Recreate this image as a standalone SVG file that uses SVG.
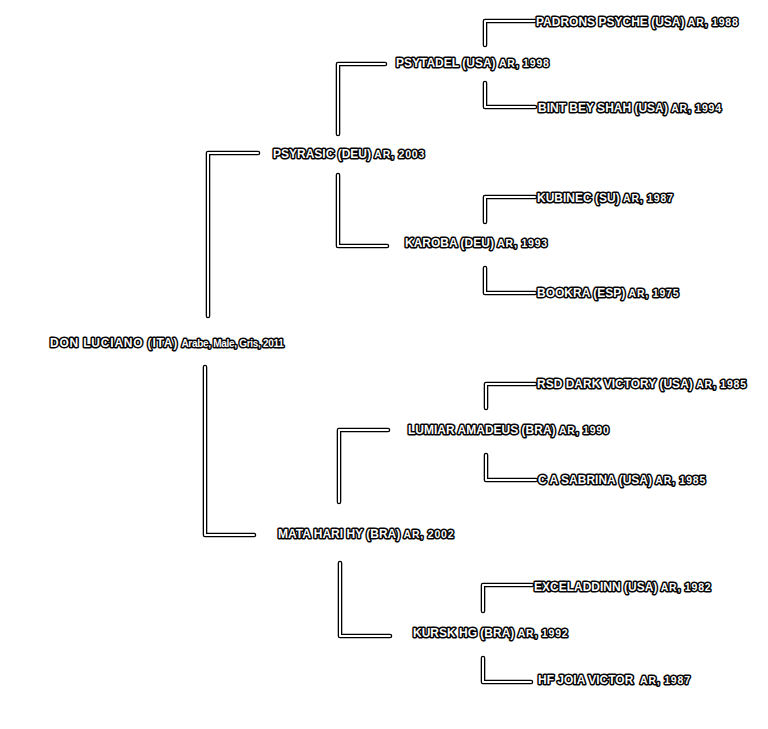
<svg xmlns="http://www.w3.org/2000/svg" xmlns:xlink="http://www.w3.org/1999/xlink" width="768" height="729" viewBox="0 0 768 729">
<style>
text{font-family:"Liberation Sans",Arial,sans-serif;font-weight:bold;font-size:12px;fill:#fff;stroke:#000;stroke-width:3;stroke-linejoin:round;paint-order:stroke}
.s{font-size:10.5px;letter-spacing:0.8px}
.r{font-size:10px;letter-spacing:-0.3px}
.d{letter-spacing:0.8px}
.o{fill:none;stroke:#000;stroke-width:4.6;stroke-linecap:round;stroke-linejoin:round}
.i{fill:none;stroke:#fff;stroke-width:2;stroke-linecap:round;stroke-linejoin:round}
</style>
<rect width="768" height="729" fill="#fff"/>
<defs>
<path id="p1" d="M208,316V153H258"/>
<path id="p2" d="M205,367V535H254"/>
<path id="p3" d="M338,134V64H385"/>
<path id="p4" d="M338,175V246H387"/>
<path id="p5" d="M485,45V21H535"/>
<path id="p6" d="M485,83V107H535"/>
<path id="p7" d="M485,222V197H535"/>
<path id="p8" d="M485,268V293H535"/>
<path id="p9" d="M486,408V384H535"/>
<path id="p10" d="M486,455V480H536"/>
<path id="p11" d="M339,502V430H388"/>
<path id="p12" d="M340,563V636H390"/>
<path id="p13" d="M483,611V585H532"/>
<path id="p14" d="M483,658V682H531"/>
</defs>
<g id="connectors">
<use href="#p1" class="o"/><use href="#p1" class="i"/>
<use href="#p2" class="o"/><use href="#p2" class="i"/>
<use href="#p3" class="o"/><use href="#p3" class="i"/>
<use href="#p4" class="o"/><use href="#p4" class="i"/>
<use href="#p5" class="o"/><use href="#p5" class="i"/>
<use href="#p6" class="o"/><use href="#p6" class="i"/>
<use href="#p7" class="o"/><use href="#p7" class="i"/>
<use href="#p8" class="o"/><use href="#p8" class="i"/>
<use href="#p9" class="o"/><use href="#p9" class="i"/>
<use href="#p10" class="o"/><use href="#p10" class="i"/>
<use href="#p11" class="o"/><use href="#p11" class="i"/>
<use href="#p12" class="o"/><use href="#p12" class="i"/>
<use href="#p13" class="o"/><use href="#p13" class="i"/>
<use href="#p14" class="o"/><use href="#p14" class="i"/>
</g>
<g id="n-padrons"><text x="536" y="26">PADRONS PSYCHE (USA) <tspan class="s">AR, 1988</tspan></text></g>
<g id="n-psytadel"><text x="396" y="67">PSYTADEL (USA) <tspan class="s">AR, 1998</tspan></text></g>
<g id="n-bint"><text x="538" y="112">BINT BEY SHAH (USA) <tspan class="s">AR, 1994</tspan></text></g>
<g id="n-psyrasic"><text x="273" y="158">PSYRASIC (DEU) <tspan class="s">AR, 2003</tspan></text></g>
<g id="n-kubinec"><text x="537" y="202">KUBINEC (SU) <tspan class="s">AR, 1987</tspan></text></g>
<g id="n-karoba"><text x="405" y="247">KAROBA (DEU) <tspan class="s">AR, 1993</tspan></text></g>
<g id="n-bookra"><text x="537" y="297">BOOKRA (ESP) <tspan class="s">AR, 1975</tspan></text></g>
<g id="n-don"><text x="50" y="347"><tspan class="d">DON LUCIANO (ITA)</tspan> <tspan class="r">Arabe, Male, Gris, 2011</tspan></text></g>
<g id="n-rsd"><text x="537" y="388">RSD DARK VICTORY (USA) <tspan class="s">AR, 1985</tspan></text></g>
<g id="n-lumiar"><text x="408" y="434">LUMIAR AMADEUS (BRA) <tspan class="s">AR, 1990</tspan></text></g>
<g id="n-sabrina"><text x="538" y="484">C A SABRINA (USA) <tspan class="s">AR, 1985</tspan></text></g>
<g id="n-mata"><text x="278" y="538">MATA HARI HY (BRA) <tspan class="s">AR, 2002</tspan></text></g>
<g id="n-exceladdinn"><text x="534" y="591">EXCELADDINN (USA) <tspan class="s">AR, 1982</tspan></text></g>
<g id="n-kursk"><text x="413" y="637">KURSK HG (BRA) <tspan class="s">AR, 1992</tspan></text></g>
<g id="n-hfjoia"><text x="538" y="684" xml:space="preserve">HF JOIA VICTOR  <tspan class="s">AR, 1987</tspan></text></g>
</svg>
